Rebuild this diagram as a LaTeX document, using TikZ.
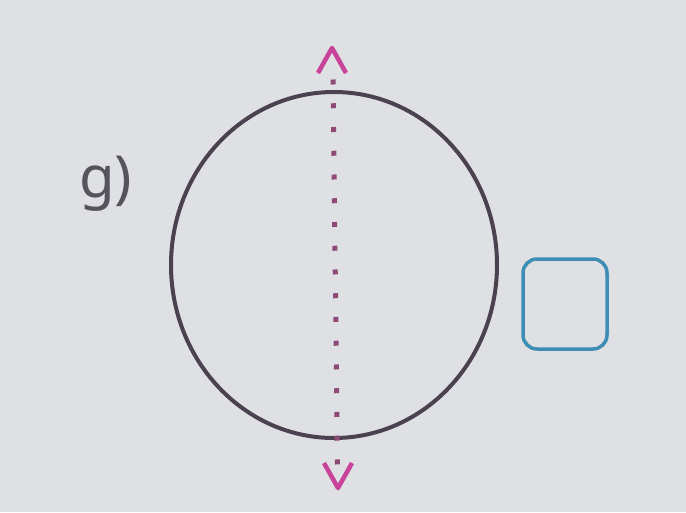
\documentclass[tikz,border=0pt]{standalone}
\usepackage{fontspec}
\newfontfamily\labelfont{Noto Sans}
\usepackage{xcolor}
\usetikzlibrary{shapes.geometric,positioning,calc}
\definecolor{paper}{HTML}{DFE0E4}
\definecolor{ringcol}{HTML}{4B4250}
\definecolor{axiscol}{HTML}{C8449A}
\definecolor{dotcol}{HTML}{8E4A74}
\definecolor{boxcol}{HTML}{3D8DB5}
\definecolor{labelcol}{HTML}{55535B}

\begin{document}
\begin{tikzpicture}[
    x=1pt, y=-1pt,
    ring/.style={draw=ringcol, line width=4pt, ellipse, minimum width=326pt, minimum height=346pt, inner sep=0pt},
    axisdots/.style={draw=dotcol, line width=5pt, dash pattern=on 5pt off 18.75pt},
    chevron/.style={draw=axiscol, line width=4.5pt, line join=round},
    tickbox/.style={draw=boxcol, line width=3.5pt, rounded corners=14pt, minimum width=84pt, minimum height=90pt, inner sep=0pt}
]
\fill[paper] (0,0) rectangle (686,512);
\useasboundingbox (0,0) rectangle (686,512);

% item label
\node[anchor=base west, inner sep=0pt, text=labelcol, font=\labelfont\fontsize{58}{60}\selectfont] (label) at (79,197) {g)};

% circle and its axis
\node[ring] (circ) at (334,265) {};
\coordinate (dotT) at (333,79.5);
\coordinate (dotB) at (337.5,464.5);
\coordinate (tipT) at (332,48);
\coordinate (tipB) at (338,488);
\draw[axisdots] (dotT) -- (dotB);
\draw[chevron] ($(tipT)+(-14,25)$) -- (tipT) -- ($(tipT)+(14,25)$);
\draw[chevron] ($(tipB)+(-14,-25)$) -- (tipB) -- ($(tipB)+(14,-25)$);

% answer box
\node[tickbox] (tick) at (565,304) {};
\end{tikzpicture}
\end{document}
